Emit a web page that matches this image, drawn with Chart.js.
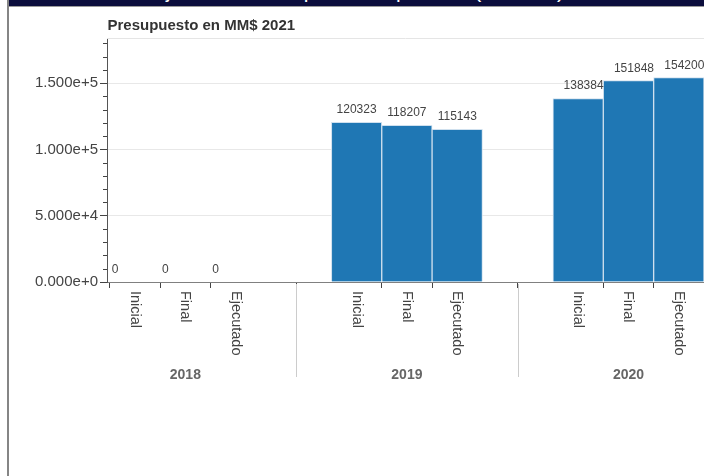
<!DOCTYPE html>
<html>
<head>
<meta charset="utf-8">
<script src="https://cdn.jsdelivr.net/npm/chart.js@4"></script>
<style>
  html, body { margin: 0; padding: 0; background: #fff; overflow: hidden; }
  body { width: 704px; height: 476px; position: relative; font-family: "Liberation Sans", Arial, sans-serif; }
  #leftBorder { position: absolute; left: 7px; top: 0; width: 2px; height: 476px; background: #858585; }
  #banner { position: absolute; left: 9px; top: 0; width: 695px; height: 6px; background: #0b0d3c; overflow: hidden; border-bottom: 1px solid #9a9a9a; }
  #banner span { position: absolute; left: 143px; top: -20px; font-size: 21px; line-height: 21px; color: #fff; white-space: nowrap; }
  #c { position: absolute; left: 9px; top: 7px; }
</style>
</head>
<body>
<div id="leftBorder"></div>
<div id="banner"><span>Ejecución Presupuestaria por Año (en MM$)</span></div>
<canvas id="c" width="695" height="469"></canvas>
<script>
// ---- data ----
const years = ['2018', '2019', '2020'];
const stages = ['Inicial', 'Final', 'Ejecutado'];
const inicial = [0, 120323, 138384];
const finalVals = [0, 118207, 151848];
const ejecutado = [0, 115143, 154200];
const yTickValues = [0, 50000, 100000, 150000];
const chartTitle = 'Presupuesto en MM$ 2021';

// ---- factor range (nested categories) ----
const GROUP_PAD = 1.4;
const series = [inicial, finalVals, ejecutado];
function factorPos(g, s) { return g * (stages.length + GROUP_PAD) + s + 0.5; }
const points = [];
const tickPositions = [];
const tickTexts = [];
const tickGroup = [];
years.forEach((yr, g) => {
  stages.forEach((st, s) => {
    const x = factorPos(g, s);
    points.push({ x: x, y: series[s][g] });
    tickPositions.push(x);
    tickTexts.push(st);
    tickGroup.push(g);
  });
});
const labelOffsets = [-20, 0, 5.5];

Chart.defaults.font.family = '"Liberation Sans", Arial, sans-serif';

const decorPlugin = {
  id: 'decor',
  beforeDatasetsDraw(chart) {
    const ctx = chart.ctx, a = chart.chartArea;
    ctx.save();
    ctx.strokeStyle = '#e5e5e5';
    ctx.lineWidth = 1;
    ctx.beginPath();
    ctx.moveTo(a.left, a.top + 0.5);
    ctx.lineTo(a.right, a.top + 0.5);
    ctx.stroke();
    ctx.restore();
  },
  afterDraw(chart) {
    const ctx = chart.ctx, a = chart.chartArea;
    const xs = chart.scales.x, ys = chart.scales.y;
    ctx.save();
    // title
    ctx.fillStyle = '#333';
    ctx.font = 'bold 15px "Liberation Sans", Arial, sans-serif';
    ctx.textAlign = 'left';
    ctx.textBaseline = 'alphabetic';
    ctx.fillText(chartTitle, a.left + 0.5, 23);
    // minor y ticks
    ctx.strokeStyle = '#444';
    ctx.lineWidth = 1;
    for (let v = 10000; v <= ys.max; v += 10000) {
      if (v % 50000 === 0) continue;
      const py = Math.round(ys.getPixelForValue(v)) + 0.5;
      ctx.beginPath();
      ctx.moveTo(a.left - 4, py);
      ctx.lineTo(a.left, py);
      ctx.stroke();
    }
    // rotated sub-labels
    ctx.fillStyle = '#444';
    ctx.font = '14.5px "Liberation Sans", Arial, sans-serif';
    tickPositions.forEach((v, i) => {
      const px = xs.getPixelForValue(v);
      ctx.save();
      ctx.translate(px, a.bottom + 9);
      ctx.rotate(Math.PI / 2);
      ctx.textAlign = 'left';
      ctx.textBaseline = 'middle';
      ctx.fillText(tickTexts[i], 0, 0);
      ctx.restore();
    });
    // group labels
    ctx.fillStyle = '#666';
    ctx.font = 'bold 14px "Liberation Sans", Arial, sans-serif';
    ctx.textAlign = 'center';
    ctx.textBaseline = 'alphabetic';
    years.forEach((yr, g) => {
      const px = xs.getPixelForValue(factorPos(g, 1));
      ctx.fillText(yr, px, a.bottom + 96.5);
    });
    // separators
    ctx.strokeStyle = '#cccccc';
    for (let g = 0; g < years.length - 1; g++) {
      const mid = (factorPos(g, stages.length - 1) + 0.5 + factorPos(g + 1, 0) - 0.5) / 2;
      const px = Math.round(xs.getPixelForValue(mid)) + 0.5;
      ctx.beginPath();
      ctx.moveTo(px, a.bottom + 2);
      ctx.lineTo(px, a.bottom + 95);
      ctx.stroke();
    }
    // value labels
    const meta = chart.getDatasetMeta(0);
    ctx.fillStyle = '#444';
    ctx.font = '12px "Liberation Sans", Arial, sans-serif';
    ctx.textAlign = 'center';
    meta.data.forEach((el, i) => {
      const val = points[i].y;
      ctx.fillText(String(val), el.x + labelOffsets[tickGroup[i]], el.y - 9);
    });
    ctx.restore();
  }
};

new Chart(document.getElementById('c'), {
  type: 'bar',
  data: {
    datasets: [{
      data: points,
      backgroundColor: '#1f77b4',
      borderColor: '#cfe0ee',
      borderWidth: 1,
      barPercentage: 1,
      categoryPercentage: 1
    }]
  },
  options: {
    responsive: false,
    animation: false,
    devicePixelRatio: 1,
    layout: { padding: { top: 31, left: 0, right: 0, bottom: 0 } },
    plugins: { legend: { display: false }, tooltip: { enabled: false }, title: { display: false } },
    scales: {
      x: {
        type: 'linear',
        min: -0.056,
        max: 11.8,
        offset: false,
        afterBuildTicks(scale) { scale.ticks = tickPositions.map(v => ({ value: v })); },
        afterFit(scale) { scale.height = 194; },
        ticks: { display: false },
        grid: { display: true, drawOnChartArea: false, drawTicks: true, tickLength: 6, tickColor: '#444', color: '#444' },
        border: { display: true, color: '#808080', width: 1 }
      },
      y: {
        min: 0,
        max: 184000,
        afterBuildTicks(scale) { scale.ticks = yTickValues.map(v => ({ value: v })); },
        afterFit(scale) { scale.width = 98; },
        ticks: {
          callback: v => Number(v).toExponential(3),
          color: '#444',
          font: { size: 15 },
          padding: 2
        },
        grid: {
          color: ctx => (ctx.tick && ctx.tick.value === 0) ? 'rgba(0,0,0,0)' : '#e8e8e8',
          tickColor: '#444',
          tickLength: 7
        },
        border: { display: true, color: '#555', width: 1 }
      }
    }
  },
  plugins: [decorPlugin]
});
</script>
</body>
</html>
